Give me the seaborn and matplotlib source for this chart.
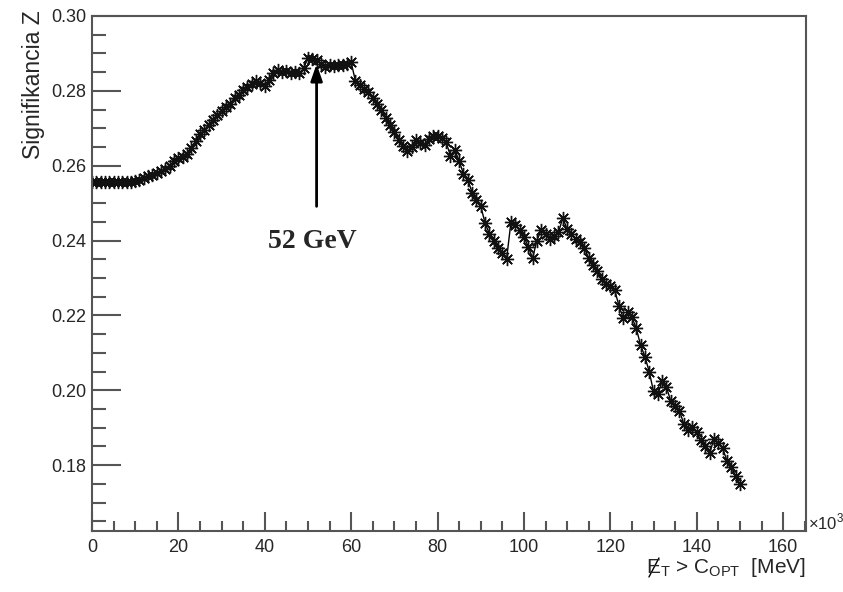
import matplotlib
matplotlib.use("Agg")
import matplotlib.pyplot as plt
from matplotlib.lines import Line2D
from matplotlib.ticker import MultipleLocator, FuncFormatter
import seaborn as sns
import numpy as np
import pandas as pd

# cut value in GeV (axis shows x10^3 MeV)
cut = list(range(0, 151))
signif = [
    0.2556, 0.2556, 0.2556, 0.2556, 0.2556, 0.2556, 0.2556, 0.2556, 0.2556, 0.2556,
    0.2558, 0.2562, 0.2567, 0.2572, 0.2576, 0.2580, 0.2585, 0.2591, 0.2600, 0.2612,
    0.2620, 0.2624, 0.2632, 0.2648, 0.2665, 0.2685, 0.2695, 0.2710, 0.2722, 0.2735,
    0.2745, 0.2758, 0.2766, 0.2782, 0.2790, 0.2802, 0.2810, 0.2818, 0.2826, 0.2820,
    0.2812, 0.2828, 0.2848, 0.2855, 0.2850, 0.2852, 0.2848, 0.2851, 0.2847, 0.2860,
    0.2888, 0.2885, 0.2882, 0.2872, 0.2864, 0.2868, 0.2866, 0.2870, 0.2868, 0.2872,
    0.2876, 0.2826, 0.2815, 0.2806, 0.2798, 0.2780, 0.2765, 0.2748, 0.2728, 0.2710,
    0.2690, 0.2668, 0.2652, 0.2639, 0.2650, 0.2668, 0.2660, 0.2655, 0.2672, 0.2680,
    0.2679, 0.2675, 0.2662, 0.2626, 0.2642, 0.2613, 0.2578, 0.2563, 0.2528, 0.2508,
    0.2492, 0.2447, 0.2418, 0.2400, 0.2380, 0.2366, 0.2352, 0.2450, 0.2442, 0.2428,
    0.2410, 0.2384, 0.2353, 0.2400, 0.2428, 0.2418, 0.2405, 0.2412, 0.2422, 0.2461,
    0.2430, 0.2418, 0.2405, 0.2397, 0.2380, 0.2353, 0.2335, 0.2318, 0.2297, 0.2285,
    0.2278, 0.2268, 0.2226, 0.2192, 0.2208, 0.2195, 0.2166, 0.2121, 0.2090, 0.2050,
    0.1997, 0.1990, 0.2024, 0.2008, 0.1971, 0.1958, 0.1945, 0.1911, 0.1895, 0.1903,
    0.1888, 0.1866, 0.1850, 0.1832, 0.1871, 0.1858, 0.1845, 0.1812, 0.1795, 0.1772,
    0.1750,
]

opt_cut = 52
arrow_tip = 0.2879
arrow_tail = 0.2484
label_y = 0.2397

df = pd.DataFrame({"cut": cut, "Z": signif})

sns.set_style("white")
plt.rcParams['font.family'] = ['Liberation Sans', 'DejaVu Sans']

fig = plt.figure(figsize=(8.43, 5.92), dpi=100)
ax = fig.add_axes([0.1091, 0.103, 0.8470, 0.870])

sns.lineplot(data=df, x="cut", y="Z", ax=ax, estimator=None, sort=False,
             color="black", linewidth=1.0, marker=(8, 2, 0), markersize=9.5,
             markeredgecolor="#111111", markeredgewidth=1.0)

ax.set_xlim(0, 165.3)
ax.set_ylim(0.1624, 0.30)

ax.xaxis.set_major_locator(MultipleLocator(20))
ax.xaxis.set_minor_locator(MultipleLocator(5))
ax.yaxis.set_major_locator(MultipleLocator(0.02))
ax.yaxis.set_minor_locator(MultipleLocator(0.005))
ax.xaxis.set_major_formatter(FuncFormatter(lambda v, p: "%d" % v))
ax.yaxis.set_major_formatter(FuncFormatter(lambda v, p: "%.2f" % v))

ax.tick_params(axis="x", which="major", direction="in", length=14, width=1.5,
               color="#555555", labelsize=13, pad=6, bottom=True, top=False)
ax.tick_params(axis="x", which="minor", direction="in", length=7, width=1.5,
               color="#555555", bottom=True, top=False)
ax.tick_params(axis="y", which="major", direction="in", length=21, width=1.5,
               color="#555555", labelsize=13, pad=4, left=True, right=False)
ax.tick_params(axis="y", which="minor", direction="in", length=10, width=1.5,
               color="#555555", left=True, right=False)

for s in ax.spines.values():
    s.set_visible(True)
    s.set_color("#555555")
    s.set_linewidth(1.5)

ax.set_xlabel("")
ax.set_ylabel("")

# ROOT-like axis titles
fig.text(0.040, 0.982, "Signifikancia Z", rotation=90, ha="center", va="top",
         fontsize=16.5)
xt = fig.text(0.956, 0.022, "E$_\\mathregular{T}$ > C$_\\mathregular{OPT}$  [MeV]",
              ha="right", va="bottom", fontsize=15)
fig.text(0.958, 0.118, "\u00d710$^\\mathregular{3}$", ha="left", va="center",
         fontsize=12)

# slash over the E (missing transverse energy), drawn as a thin line
fig.canvas.draw()
bb = xt.get_window_extent()
W, H = fig.bbox.width, fig.bbox.height
ex = bb.x0 + 1
ey = bb.y0 + 4
fig.add_artist(Line2D([(ex + 2) / W, (ex + 12) / W], [(ey - 2) / H, (ey + 17) / H],
                      transform=fig.transFigure, color="black", linewidth=1.0))

ax.annotate("", xy=(opt_cut, arrow_tip), xytext=(opt_cut, arrow_tail),
            arrowprops=dict(arrowstyle="-|>,head_length=1.0,head_width=0.35",
                            color="black", linewidth=2))
ax.text(opt_cut - 1, label_y, "52 GeV", ha="center", va="center",
        fontsize=20, fontweight="bold", family="Liberation Serif")

fig.savefig("out.png", dpi=100)
